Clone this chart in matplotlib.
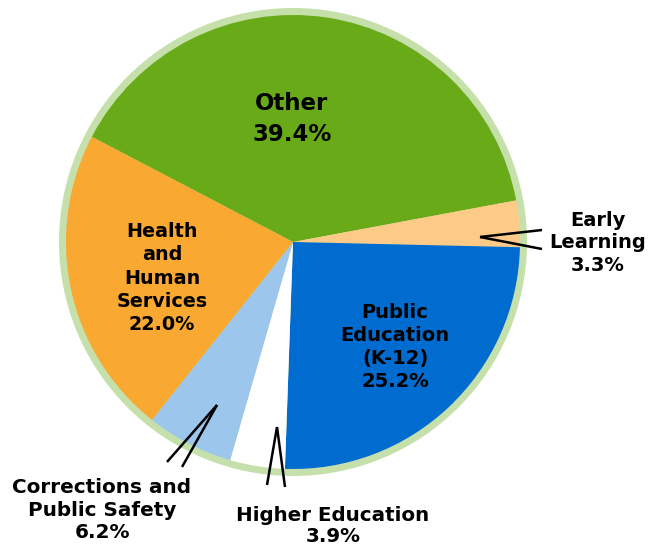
import matplotlib
matplotlib.use("Agg")
import matplotlib.pyplot as plt
from matplotlib.patches import Circle

# Budget shares (percent)
categories = ["Other", "Early Learning", "Public Education (K-12)",
              "Higher Education", "Corrections and Public Safety",
              "Health and Human Services"]
shares = [39.4, 3.3, 25.2, 3.9, 6.2, 22.0]
label_text = ["Other", "Early\nLearning", "Public\nEducation\n(K-12)",
              "Higher Education", "Corrections and\nPublic Safety",
              "Health\nand\nHuman\nServices"]
slice_colors = ["#68aa18", "#fdca88", "#006ccf", "#ffffff", "#9cc6ec", "#f9a831"]

W, H = 658, 552
CX, CY = 293, H - 242
R = 227
RING = "#c5e0aa"

# label placement in pixel coords (x, y from top), font size, line spacing
label_pos = [(292, 119), (598, 243), (395, 347), (333, 526), (102, 510), (162, 278)]
label_size = [16.5, 14, 14, 14.3, 14.4, 13.8]
label_ls = [1.45, 1.25, 1.25, 1.08, 1.23, 1.28]
# leader carets: tip, end1, end2 (pixel coords from top)
leaders = {
    1: [(480, 237), (542, 230), (542, 249)],
    3: [(277, 427), (267, 485), (285, 487)],
    4: [(217, 405), (167, 462), (182, 467)],
}

plt.rcParams["font.family"] = ["DejaVu Sans"]

fig = plt.figure(figsize=(W / 100, H / 100), dpi=100)
ax = fig.add_axes([0, 0, 1, 1])

ax.add_patch(Circle((CX, CY), R + 7, facecolor=RING, edgecolor="none", zorder=0))
ax.pie(shares, colors=slice_colors, startangle=152.4, counterclock=False,
       center=(CX, CY), radius=R, frame=True,
       wedgeprops=dict(linewidth=0, antialiased=True))

for i, (txt, v) in enumerate(zip(label_text, shares)):
    x, y = label_pos[i]
    ax.text(x, H - y, f"{txt}\n{v:.1f}%", ha="center", va="center",
            fontsize=label_size[i], fontweight="bold", color="black",
            linespacing=label_ls[i], zorder=5)

for i, (tip, e1, e2) in leaders.items():
    for end in (e1, e2):
        ax.plot([tip[0], end[0]], [H - tip[1], H - end[1]], color="black",
                lw=1.8, solid_capstyle="butt", zorder=4)

ax.set_xlim(0, W)
ax.set_ylim(0, H)
ax.set_aspect("equal")
ax.axis("off")

plt.savefig("out.png", dpi=100)
plt.close()
